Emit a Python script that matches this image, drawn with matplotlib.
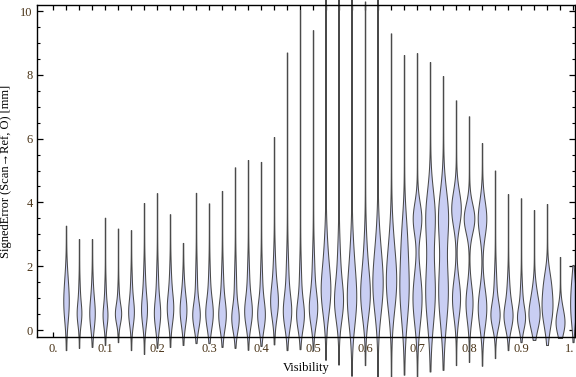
#!/usr/bin/env python3
import numpy as np
import matplotlib
matplotlib.use('Agg')
import matplotlib.pyplot as plt
from matplotlib.ticker import MultipleLocator, FixedLocator

plt.rcParams['font.family'] = ['Liberation Serif', 'DejaVu Serif']

###############################################################################
# Data (one violin per visibility bin, 0.025 wide)
###############################################################################
visibility = np.round(np.arange(1, 41) * 0.025, 3)

# lower / upper extent of each violin [mm]
lo = [-0.63, -0.56, -0.53, -0.47, -0.38, -0.63, -0.75, -0.56, -0.53, -0.47,
      -0.41, -0.41, -0.53, -0.56, -0.62, -0.50, -0.45, -0.63, -0.60, -0.63,
      -0.95, -1.10, -1.45, -1.10, -1.50, -1.50, -1.40, -1.45, -1.30, -1.25,
      -1.10, -1.00, -1.12, -0.88, -0.63, -0.38, -0.31, -0.47, -0.25, -0.38]
hi = [3.27, 2.85, 2.85, 3.52, 3.18, 3.13, 3.98, 4.29, 3.63, 2.73,
      4.30, 3.97, 4.36, 5.10, 5.33, 5.27, 6.05, 8.70, 10.03, 9.40,
      11.0, 12.0, 11.5, 10.3, 11.0, 9.30, 8.62, 8.68, 8.40, 7.96,
      7.20, 6.70, 5.86, 5.00, 4.26, 4.13, 3.76, 3.95, 2.29, 2.04]

# main mode: centre, relative density, spread
mode1 = [0.80, 0.50, 0.50, 0.45, 0.50, 0.55, 0.60, 0.50, 0.65, 0.60,
         0.45, 0.50, 0.45, 0.35, 0.55, 0.45, 0.85, 0.55, 0.45, 0.65,
         1.15, 0.85, 0.90, 1.05, 1.30, 1.40, 1.30, 1.00, 1.20, 1.20,
         1.00, 0.85, 0.70, 0.45, 0.42, 0.37, 0.47, 0.73, 0.20, 0.73]
dens1 = [0.45, 0.40, 0.48, 0.42, 0.55, 0.50, 0.50, 0.55, 0.55, 0.60,
         0.65, 0.65, 0.65, 0.62, 0.65, 0.65, 0.65, 0.70, 0.65, 0.70,
         0.80, 0.75, 0.80, 0.80, 0.85, 0.85, 0.85, 0.85, 0.90, 0.90,
         0.75, 0.65, 0.80, 0.78, 0.78, 0.70, 1.00, 1.00, 0.78, 0.50]
sprd1 = [0.55, 0.35, 0.45, 0.35, 0.30, 0.40, 0.45, 0.45, 0.45, 0.45,
         0.40, 0.45, 0.45, 0.40, 0.45, 0.45, 0.50, 0.50, 0.45, 0.50,
         0.70, 0.60, 0.80, 0.70, 0.85, 0.85, 1.00, 0.80, 1.00, 1.00,
         0.60, 0.55, 0.60, 0.40, 0.40, 0.35, 0.45, 0.60, 0.35, 0.55]

# secondary mode
mode2 = [1.60, 1.20, 1.30, 1.20, 1.10, 1.40, 1.50, 1.50, 1.50, 1.40,
         1.40, 1.40, 1.40, 1.30, 1.50, 1.40, 1.80, 1.60, 1.40, 1.70,
         2.30, 2.00, 2.20, 2.20, 2.50, 2.60, 3.00, 3.50, 3.60, 3.60,
         3.80, 3.50, 3.50, 1.30, 1.20, 1.10, 1.20, 1.60, 0.70, 1.50]
dens2 = [0.15, 0.10, 0.10, 0.10, 0.10, 0.12, 0.15, 0.15, 0.15, 0.12,
         0.15, 0.15, 0.18, 0.18, 0.18, 0.18, 0.20, 0.22, 0.18, 0.22,
         0.28, 0.25, 0.28, 0.28, 0.30, 0.30, 0.35, 0.80, 0.85, 0.90,
         0.90, 1.00, 0.80, 0.22, 0.22, 0.18, 0.25, 0.30, 0.20, 0.15]
sprd2 = [0.50, 0.40, 0.45, 0.40, 0.35, 0.45, 0.55, 0.55, 0.55, 0.45,
         0.65, 0.60, 0.60, 0.70, 0.65, 0.65, 0.65, 0.75, 0.70, 0.75,
         0.80, 0.80, 0.80, 0.80, 0.85, 0.85, 0.75, 0.50, 0.80, 0.80,
         0.55, 0.45, 0.55, 0.60, 0.50, 0.45, 0.40, 0.40, 0.30, 0.40]

xticklabels = ['0.', '0.1', '0.2', '0.3', '0.4', '0.5', '0.6', '0.7', '0.8', '0.9', '1.']

###############################################################################
# Plot
###############################################################################
FILL = '#c9cef3'
EDGE = '#4a4a4a'
TICKCOL = '#4a3418'
HALF_W = 0.0098      # half-width for relative density 1
TAIL_W = 0.0004

fig = plt.figure(figsize=(5.76, 3.77), dpi=100)
ax = fig.add_axes([37 / 576, 40 / 377, 538 / 576, 332 / 377])

for i, x in enumerate(visibility):
    y = np.linspace(lo[i], hi[i], 400)
    w = (dens1[i] * np.exp(-0.5 * ((y - mode1[i]) / sprd1[i]) ** 2)
         + dens2[i] * np.exp(-0.5 * ((y - mode2[i]) / sprd2[i]) ** 2))
    w = HALF_W * np.minimum(w, 1.1) + TAIL_W
    ax.fill_betweenx(y, x - w, x + w, facecolor=FILL, edgecolor=EDGE,
                     linewidth=0.75, clip_on=False, zorder=2)

ax.set_xlim(-0.0308, 1.0038)
ax.set_ylim(-0.219, 10.19)

# ticks at every bin, labels every 0.1 (last one placed by hand so it stays inside)
ax.xaxis.set_major_locator(FixedLocator(np.round(np.arange(0, 41) * 0.025, 3)))
ax.set_xticklabels([xticklabels[j // 4] if (j % 4 == 0 and j < 40) else ''
                    for j in range(41)])
ax.annotate(xticklabels[-1], xy=(1.0, 0), xycoords=('data', 'axes fraction'),
            xytext=(1.2, -4.5), textcoords='offset points', ha='right', va='top',
            fontsize=9, color=TICKCOL)
ax.yaxis.set_major_locator(MultipleLocator(2))
ax.yaxis.set_minor_locator(MultipleLocator(0.5))

ax.tick_params(axis='x', which='major', direction='in', length=3.5, width=0.9,
               top=True, labelsize=9, labelcolor=TICKCOL, pad=4)
ax.tick_params(axis='y', which='major', direction='in', length=4, width=0.9,
               right=True, labelsize=9, labelcolor=TICKCOL, pad=3)
ax.tick_params(axis='y', which='minor', direction='in', length=2.2, width=0.8,
               right=True)

for s in ax.spines.values():
    s.set_linewidth(1.0)
    s.set_zorder(3)

ax.set_xlabel('Visibility', fontsize=9, labelpad=5)
ax.set_ylabel('SignedError (Scan\u2192Ref, O) [mm]', fontsize=9, labelpad=6)

fig.savefig('out.png', dpi=100)
